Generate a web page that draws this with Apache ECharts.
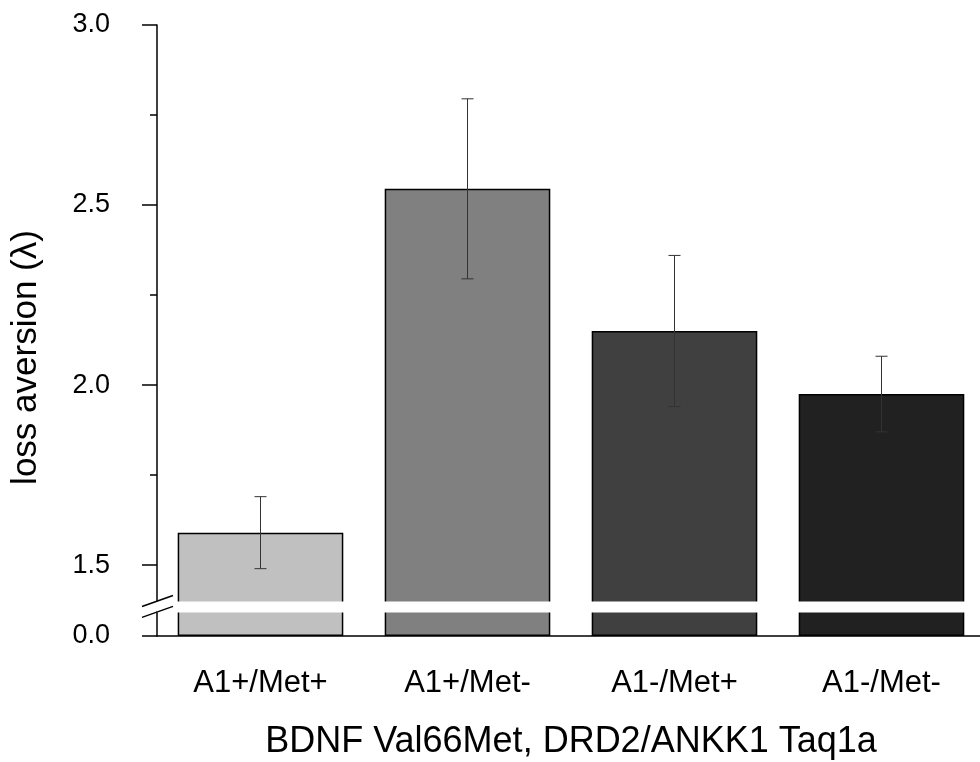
<!DOCTYPE html>
<html>
<head>
<meta charset="utf-8">
<script src="https://cdn.jsdelivr.net/npm/echarts@6/dist/echarts.min.js"></script>
<style>
  html, body { margin: 0; padding: 0; background: #fff; }
  #chart { width: 980px; height: 762px; }
</style>
</head>
<body>
<div id="chart"></div>
<script>
// data
const categories = ['A1+/Met+', 'A1+/Met-', 'A1-/Met+', 'A1-/Met-'];
const means = [1.59, 2.545, 2.15, 1.975];
const errors = [0.10, 0.25, 0.21, 0.105];
const barColors = ['#c0c0c0', '#808080', '#404040', '#212121'];
const yTickValues = [0, 1.5, 2.0, 2.5, 3.0];
const yMinorValues = [1.75, 2.25, 2.75];
const axisBreak = { start: 0.067, end: 1.4 };

const chart = echarts.init(document.getElementById('chart'));
const font = 'Liberation Sans, Arial, sans-serif';
const gridLeft = 157;

const option = {
  animation: false,
  grid: { left: gridLeft, top: 25, width: 828, bottom: 126, containLabel: false, outerBoundsMode: 'none' },
  xAxis: {
    type: 'category',
    data: categories,
    name: 'BDNF Val66Met, DRD2/ANKK1 Taq1a',
    nameLocation: 'middle',
    nameGap: 88,
    nameTextStyle: { fontFamily: font, fontSize: 36, color: '#000' },
    axisLine: { lineStyle: { color: '#000', width: 1.5 } },
    axisTick: { show: false },
    axisLabel: { fontFamily: font, fontSize: 31, color: '#000', margin: 32 }
  },
  yAxis: [{
    type: 'value',
    min: 0,
    max: 3,
    interval: 0.5,
    breaks: [{ start: axisBreak.start, end: axisBreak.end, gap: 0.03 }],
    breakArea: {
      show: true,
      expandOnClick: false,
      zigzagAmplitude: 0,
      itemStyle: { color: '#fff', borderWidth: 0, opacity: 1 }
    },
    name: 'loss aversion (λ)',
    nameLocation: 'middle',
    nameGap: 113,
    nameTextStyle: { fontFamily: font, fontSize: 35, color: '#000', padding: [0, 54, 0, 0] },
    axisLine: { show: true, lineStyle: { color: '#000', width: 1.5 } },
    axisTick: { show: true, length: 15, customValues: yTickValues, lineStyle: { color: '#000', width: 1.5 } },
    minorTick: { show: false },
    splitLine: { show: false },
    axisLabel: {
      fontFamily: font, fontSize: 27, color: '#000', margin: 47,
      customValues: yTickValues,
      formatter: v => v.toFixed(1)
    }
  }, {
    // short minor ticks only
    type: 'value',
    position: 'left',
    min: 0,
    max: 3,
    interval: 0.5,
    breaks: [{ start: axisBreak.start, end: axisBreak.end, gap: 0.03 }],
    breakArea: { show: false },
    axisLine: { show: false },
    axisTick: { show: true, length: 7, customValues: yMinorValues, lineStyle: { color: '#000', width: 1.5 } },
    axisLabel: { show: false },
    splitLine: { show: false }
  }],
  series: [
    {
      type: 'bar',
      barCategoryGap: '20%',
      data: means.map((v, i) => ({
        value: v,
        itemStyle: { color: barColors[i] }
      })),
      itemStyle: { borderColor: '#000', borderWidth: 1.5 }
    },
    {
      type: 'custom',
      z: 5,
      data: means.map((v, i) => [i, v - errors[i], v + errors[i]]),
      renderItem: function (params, api) {
        const lo = api.coord([api.value(0), api.value(1)]);
        const hi = api.coord([api.value(0), api.value(2)]);
        const cap = 6;
        const style = { stroke: '#333', lineWidth: 1 };
        return {
          type: 'group',
          children: [
            { type: 'line', shape: { x1: hi[0], y1: hi[1], x2: lo[0], y2: lo[1] }, style: style },
            { type: 'line', shape: { x1: hi[0] - cap, y1: hi[1], x2: hi[0] + cap, y2: hi[1] }, style: style },
            { type: 'line', shape: { x1: lo[0] - cap, y1: lo[1], x2: lo[0] + cap, y2: lo[1] }, style: style }
          ]
        };
      }
    }
  ]
};

chart.setOption(option);

// break marks on the y axis line (two slashes at the break edges)
const yHi = chart.convertToPixel({ yAxisIndex: 0 }, axisBreak.end);
const yLo = chart.convertToPixel({ yAxisIndex: 0 }, axisBreak.start);
const slash = (yc) => ({
  type: 'line',
  z: 100,
  shape: { x1: gridLeft - 15, y1: yc + 5.5, x2: gridLeft + 16, y2: yc - 5.5 },
  style: { stroke: '#000', lineWidth: 1.5 }
});
chart.setOption({
  graphic: [slash(yHi), slash(yLo)]
});
</script>
</body>
</html>
